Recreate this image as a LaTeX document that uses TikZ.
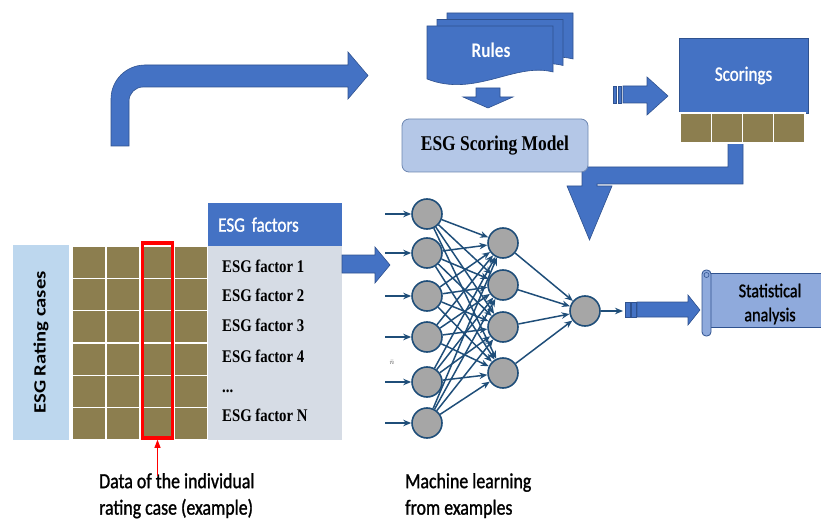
\documentclass[tikz,border=0pt]{standalone}
\usepackage{fontspec}
\setmainfont[FakeStretch=0.83]{Liberation Serif}
\newfontfamily\calibri[FakeStretch=0.83, FakeBold=1.2]{Carlito}
\newfontfamily\calibrihead[FakeStretch=0.83]{Carlito}
\newfontfamily\calibriwide[FakeStretch=1.2]{Carlito}
\usepackage{tikz}
\usetikzlibrary{arrows.meta, calc}

\definecolor{esgblue}{HTML}{4472C4}
\definecolor{esgdark}{HTML}{2F528F}
\definecolor{esgnavy}{HTML}{1F4E79}
\definecolor{esglight}{HTML}{B4C7E7}
\definecolor{esgsky}{HTML}{BDD7EE}
\definecolor{esggray}{HTML}{D6DCE5}
\definecolor{esgolive}{HTML}{8C7E4F}
\definecolor{esgnode}{HTML}{A6A6A6}
\definecolor{esgscroll}{HTML}{8FAADC}

\newcommand\factordots{...}

\tikzset{
  blockarrow/.style={fill=esgblue, draw=esgdark, line width=0.6pt},
  neuron/.style={circle, draw=esgnavy, fill=esgnode, line width=1.6pt, minimum size=30pt, inner sep=0pt},
  synapse/.style={draw=esgnavy, line width=1.5pt, -{Stealth[length=8pt,width=6.5pt]}},
  cell/.style={fill=esgolive, draw=white, line width=1.2pt},
}

\begin{document}
\begin{tikzpicture}[x=1pt, y=-1pt]
  \useasboundingbox (0,0) rectangle (821,521);
  % bent arrow into the rules
  \filldraw[blockarrow] (111,146) -- (111,99) .. controls (111,80.2) and (126.2,65) .. (145,65)
    -- (348,65) -- (348,52) -- (368,75.5) -- (348,99) -- (348,87) -- (143,87)
    .. controls (135.3,87) and (129,93.3) .. (129,101) -- (129,146) -- cycle;

  % stack of rule sheets
  \foreach \d in {20,10,0}
    \filldraw[blockarrow, shift={(\d,-0.65*\d)}] (427,26) -- (553,26) -- (553,72)
      .. controls (515,62) and (475,98) .. (427,79) -- cycle;
  \node[font=\calibrihead\bfseries\fontsize{20.8}{24}\selectfont, text=white] (rules) at (491,50) {Rules};
  \filldraw[blockarrow] (476,88) -- (500,88) -- (500,97) -- (513,97) -- (488,108) -- (463,97) -- (476,97) -- cycle;

  % scorings to the network
  \filldraw[blockarrow] (728,143) -- (743,143) -- (743,184) -- (597,184) -- (597,186) -- (612,186)
    -- (589.5,240) -- (567,186) -- (582,186) -- (582,167) -- (728,167) -- cycle;

  \node[fill=esglight, draw=esgdark!70, line width=0.8pt, rounded corners=7pt, minimum width=186pt,
    minimum height=53pt, font=\bfseries\fontsize{21}{25}\selectfont] (model) at (495,145.5) {ESG Scoring Model};

  % striped arrow
  \filldraw[blockarrow] (613,86) rectangle (616,103);
  \filldraw[blockarrow] (618,86) rectangle (621,103);
  \filldraw[blockarrow] (623,86) -- (647,86) -- (647,77) -- (668,96) -- (647,115) -- (647,103) -- (623,103) -- cycle;

  \node[fill=esgblue, draw=esgdark, minimum width=129pt, minimum height=75pt, text=white,
    font=\calibri\fontsize{20.5}{24}\selectfont] (scorings) at (743.5,75.5) {Scorings};
  \foreach \i in {0,...,3}
    \filldraw[cell] ({680+31.25*\i},113) rectangle ++(31.25,30);

  % rating cases table
  \node[fill=esgsky, rotate=90, minimum width=195pt, minimum height=56pt, inner sep=0pt,
    font=\calibriwide\bfseries\fontsize{17.2}{20}\selectfont] (cases) at (41,342.5) {ESG Rating cases};
  \foreach \c in {0,...,3}
    \foreach \r in {0,...,5}
      \filldraw[cell] ({72+34*\c},{246+32.33*\r}) rectangle ++(34,32.33);
  \node[draw=red, line width=3.5pt, minimum width=30pt, minimum height=195pt, inner sep=0pt] (case) at (157.5,340.5) {};

  \node[fill=esgblue, anchor=north west, minimum width=134pt, minimum height=43pt, text width=114pt,
    align=left, text=white, font=\calibri\fontsize{20.5}{24}\selectfont] (factors) at (208,203) {ESG factors};
  \node[fill=esggray, anchor=north west, minimum width=134pt, minimum height=194pt] (list) at (208,246) {};
  \foreach \t/\y [count=\k] in {ESG factor 1/272, ESG factor 2/301, ESG factor 3/331,
      ESG factor 4/362, \factordots/392, ESG factor N/421}
    \node[anchor=base west, inner sep=0pt, font=\bfseries\fontsize{17.8}{20}\selectfont] (f\k) at (222,\y) {\t};

  \filldraw[blockarrow] (342,255) -- (375,255) -- (375,247) -- (390,265) -- (375,283) -- (375,273) -- (342,273) -- cycle;

  % network
  \foreach \y [count=\i] in {214,253,296,337,382,423}
    \node[neuron] (in\i) at (427,\y) {};
  \foreach \y [count=\j] in {243,285,327,373}
    \node[neuron] (hid\j) at (503,\y) {};
  \node[neuron] (out) at (585,311) {};
  \foreach \i in {1,...,6} {
    \coordinate (src\i) at ($(in\i)+(-42,0)$);
    \draw[synapse] (src\i) -- (in\i);
    \foreach \j in {1,...,4}
      \draw[synapse] (in\i) -- (hid\j);
  }
  \foreach \j in {1,...,4}
    \draw[synapse] (hid\j) -- (out);
  \node[font=\scriptsize, text=black!70] (mark) at (392,362) {$\bar{n}$};
  \coordinate (sink) at (623,311);
  \draw[synapse] (out) -- (sink);

  % into the statistics
  \filldraw[blockarrow] (625,302) rectangle (630,317);
  \filldraw[blockarrow] (631,302) rectangle (636,317);
  \filldraw[blockarrow] (637,302) -- (688,302) -- (688,295) -- (700,310) -- (688,325) -- (688,317) -- (637,317) -- cycle;
  \filldraw[fill=esgscroll, draw=esgdark, line width=0.8pt] (706,273) rectangle (830,327);
  \filldraw[fill=esgscroll, draw=esgdark, line width=0.8pt, rounded corners=4pt] (702,270) rectangle (711,336);
  \draw[esgdark, line width=0.6pt] (706.5,275) circle (2.5);
  \node[align=center, font=\calibri\fontsize{19.5}{24}\selectfont] (stats) at (770,304) {Statistical\\analysis};

  % captions
  \node[anchor=north west, align=left, inner sep=0pt, font=\calibri\fontsize{21.5}{26.5}\selectfont] (note) at (99,473)
    {Data of the individual\\rating case (example)};
  \coordinate (pointer) at (157.5,476);
  \draw[red, line width=0.9pt, -{Triangle[length=8pt,width=6pt]}] (pointer) -- (case.south);
  \node[anchor=north west, align=left, inner sep=0pt, font=\calibri\fontsize{21.5}{26.5}\selectfont] (learn) at (405,473)
    {Machine learning\\from examples};
\end{tikzpicture}
\end{document}
